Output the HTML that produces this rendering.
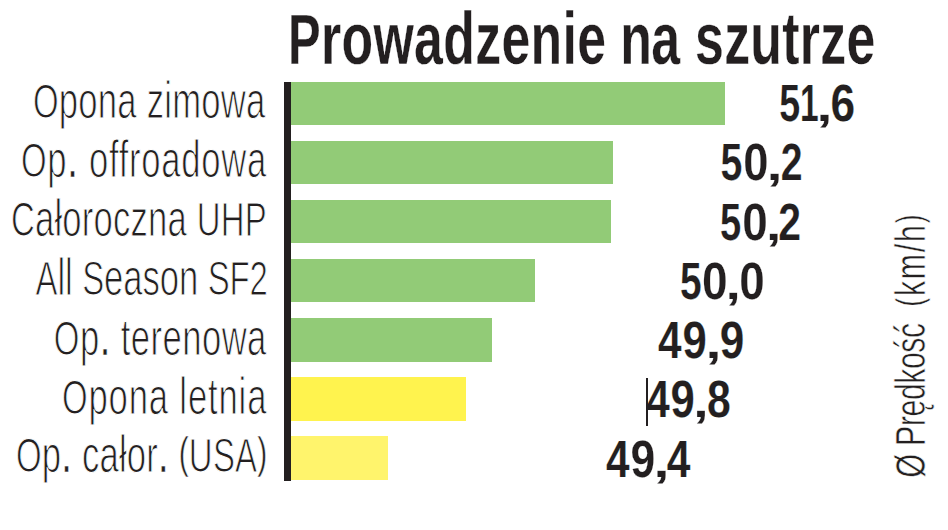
<!DOCTYPE html>
<html><head><meta charset="utf-8"><style>
html,body{margin:0;padding:0;background:#fff;width:948px;height:530px;overflow:hidden}
svg{display:block}
text{font-family:"Liberation Sans",sans-serif;fill:#231f20}
</style></head><body>
<svg width="948" height="530" viewBox="0 0 948 530">

<rect x="291" y="82" width="434" height="43" fill="#92cb77"/>
<rect x="291" y="141" width="322" height="43" fill="#92cb77"/>
<rect x="291" y="200" width="320" height="43" fill="#92cb77"/>
<rect x="291" y="259" width="244" height="43" fill="#92cb77"/>
<rect x="291" y="318" width="201" height="44" fill="#92cb77"/>
<rect x="291" y="377" width="175" height="44" fill="#fff34e"/>
<rect x="291" y="436" width="97" height="44" fill="#fff46c"/>
<rect x="284" y="82" width="7" height="399" fill="#231f20"/>
<text transform="translate(287.99,64.2) scale(0.7,1)" font-size="74" font-weight="bold" letter-spacing="0.476" stroke="#fff" stroke-width="0.3"><tspan font-size="70">P</tspan>rowadzenie</text>
<text transform="translate(620.3,64.2) scale(0.7,1)" font-size="74" font-weight="bold" letter-spacing="-1.084" stroke="#fff" stroke-width="0.3">na</text>
<text transform="translate(695.02,64.2) scale(0.7,1)" font-size="74" font-weight="bold" letter-spacing="0.45" stroke="#fff" stroke-width="0.3">szutrze</text>
<text transform="translate(32.92,118.0) scale(0.68,1)" font-size="51" font-weight="normal" letter-spacing="0.323" stroke="#fff" stroke-width="1.1"><tspan font-size="48.5">O</tspan>pona zimowa</text>
<text transform="translate(20.94,177.0) scale(0.68,1)" font-size="51" font-weight="normal" letter-spacing="1.05" stroke="#fff" stroke-width="1.1"><tspan font-size="48.5">O</tspan>p<tspan font-size="56" stroke-width="0.5">.</tspan> offroadowa</text>
<text transform="translate(10.98,235.9) scale(0.68,1)" font-size="51" font-weight="normal" letter-spacing="0.25" stroke="#fff" stroke-width="1.1"><tspan font-size="48.5">C</tspan>ałoroczna <tspan font-size="48.5">U</tspan><tspan font-size="48.5">H</tspan><tspan font-size="48.5">P</tspan></text>
<text transform="translate(35.51,294.9) scale(0.68,1)" font-size="51" font-weight="normal" letter-spacing="-0.139" stroke="#fff" stroke-width="1.1"><tspan font-size="48.5">A</tspan>ll <tspan font-size="48.5">S</tspan>eason <tspan font-size="48.5">S</tspan><tspan font-size="48.5">F</tspan><tspan font-size="48.5">2</tspan></text>
<text transform="translate(53.82,355.1) scale(0.68,1)" font-size="51" font-weight="normal" letter-spacing="0.635" stroke="#fff" stroke-width="1.1"><tspan font-size="48.5">O</tspan>p<tspan font-size="56" stroke-width="0.5">.</tspan> terenowa</text>
<text transform="translate(61.94,414.0) scale(0.68,1)" font-size="51" font-weight="normal" letter-spacing="1.22" stroke="#fff" stroke-width="1.1"><tspan font-size="48.5">O</tspan>pona letnia</text>
<text transform="translate(15.94,472.4) scale(0.68,1)" font-size="51" font-weight="normal" letter-spacing="0.291" stroke="#fff" stroke-width="1.1"><tspan font-size="48.5">O</tspan>p<tspan font-size="56" stroke-width="0.5">.</tspan> całor<tspan font-size="56" stroke-width="0.5">.</tspan> <tspan font-size="44" baseline-shift="4.5" stroke-width="0.6">(</tspan><tspan font-size="48.5">U</tspan><tspan font-size="48.5">S</tspan><tspan font-size="48.5">A</tspan><tspan font-size="44" baseline-shift="4.5" stroke-width="0.6">)</tspan></text>
<text transform="translate(779.14,120.5) scale(0.7235,1)" font-size="52" font-weight="bold" stroke="#fff" stroke-width="0.2">5</text>
<text transform="translate(800.0,120.5) scale(0.6446,1)" font-size="52" font-weight="bold" stroke="#fff" stroke-width="0.2">1</text>
<text transform="translate(815.91,120.5) scale(1.4412,1)" font-size="42" font-weight="bold" stroke="#fff" stroke-width="0.2">,</text>
<text transform="translate(830.56,120.5) scale(0.8512,1)" font-size="52" font-weight="bold" stroke="#fff" stroke-width="0.2">6</text>
<text transform="translate(720.59,179.5) scale(0.755,1)" font-size="52" font-weight="bold" stroke="#fff" stroke-width="0.2">5</text>
<text transform="translate(743.2,179.5) scale(0.8731,1)" font-size="52" font-weight="bold" stroke="#fff" stroke-width="0.2">0</text>
<text transform="translate(766.33,179.5) scale(1.4209,1)" font-size="42" font-weight="bold" stroke="#fff" stroke-width="0.2">,</text>
<text transform="translate(780.72,179.5) scale(0.7542,1)" font-size="52" font-weight="bold" stroke="#fff" stroke-width="0.2">2</text>
<text transform="translate(720.1,239.5) scale(0.7333,1)" font-size="52" font-weight="bold" stroke="#fff" stroke-width="0.2">5</text>
<text transform="translate(742.14,239.5) scale(0.8816,1)" font-size="52" font-weight="bold" stroke="#fff" stroke-width="0.2">0</text>
<text transform="translate(765.64,239.5) scale(1.3543,1)" font-size="42" font-weight="bold" stroke="#fff" stroke-width="0.2">,</text>
<text transform="translate(778.31,239.5) scale(0.787,1)" font-size="52" font-weight="bold" stroke="#fff" stroke-width="0.2">2</text>
<text transform="translate(679.96,298.5) scale(0.7476,1)" font-size="52" font-weight="bold" stroke="#fff" stroke-width="0.2">5</text>
<text transform="translate(702.12,298.5) scale(0.8859,1)" font-size="52" font-weight="bold" stroke="#fff" stroke-width="0.2">0</text>
<text transform="translate(725.14,298.5) scale(1.3445,1)" font-size="42" font-weight="bold" stroke="#fff" stroke-width="0.2">,</text>
<text transform="translate(739.14,298.5) scale(0.8809,1)" font-size="52" font-weight="bold" stroke="#fff" stroke-width="0.2">0</text>
<text transform="translate(657.88,357.5) scale(0.815,1)" font-size="52" font-weight="bold" stroke="#fff" stroke-width="0.2">4</text>
<text transform="translate(682.59,357.5) scale(0.8408,1)" font-size="52" font-weight="bold" stroke="#fff" stroke-width="0.2">9</text>
<text transform="translate(704.9,357.5) scale(1.4479,1)" font-size="42" font-weight="bold" stroke="#fff" stroke-width="0.2">,</text>
<text transform="translate(719.87,357.5) scale(0.8509,1)" font-size="52" font-weight="bold" stroke="#fff" stroke-width="0.2">9</text>
<text transform="translate(646.41,416.5) scale(0.8033,1)" font-size="52" font-weight="bold" stroke="#fff" stroke-width="0.2">4</text>
<text transform="translate(670.59,416.5) scale(0.8408,1)" font-size="52" font-weight="bold" stroke="#fff" stroke-width="0.2">9</text>
<text transform="translate(693.0,416.5) scale(1.3539,1)" font-size="42" font-weight="bold" stroke="#fff" stroke-width="0.2">,</text>
<text transform="translate(707.09,416.5) scale(0.8224,1)" font-size="52" font-weight="bold" stroke="#fff" stroke-width="0.2">8</text>
<text transform="translate(605.88,476.5) scale(0.815,1)" font-size="52" font-weight="bold" stroke="#fff" stroke-width="0.2">4</text>
<text transform="translate(630.56,476.5) scale(0.8542,1)" font-size="52" font-weight="bold" stroke="#fff" stroke-width="0.2">9</text>
<text transform="translate(652.9,476.5) scale(1.4479,1)" font-size="42" font-weight="bold" stroke="#fff" stroke-width="0.2">,</text>
<text transform="translate(666.78,476.5) scale(0.8203,1)" font-size="52" font-weight="bold" stroke="#fff" stroke-width="0.2">4</text>
<rect x="646" y="378" width="2" height="48" fill="#231f20"/>
<text transform="translate(925,477.81) rotate(-90) scale(0.72,1)" font-size="42" font-weight="normal" letter-spacing="-0.631" stroke="#fff" stroke-width="0.6"><tspan font-size="43">Ø</tspan> <tspan font-size="43">P</tspan>rędkość</text>
<text transform="translate(925,306.81) rotate(-90) scale(0.72,1)" font-size="42" font-weight="normal" letter-spacing="2.549" stroke="#fff" stroke-width="0.6"><tspan font-size="37" baseline-shift="3" stroke-width="0.6">(</tspan>km/h<tspan font-size="37" baseline-shift="3" stroke-width="0.6">)</tspan></text>
</svg>
</body></html>
